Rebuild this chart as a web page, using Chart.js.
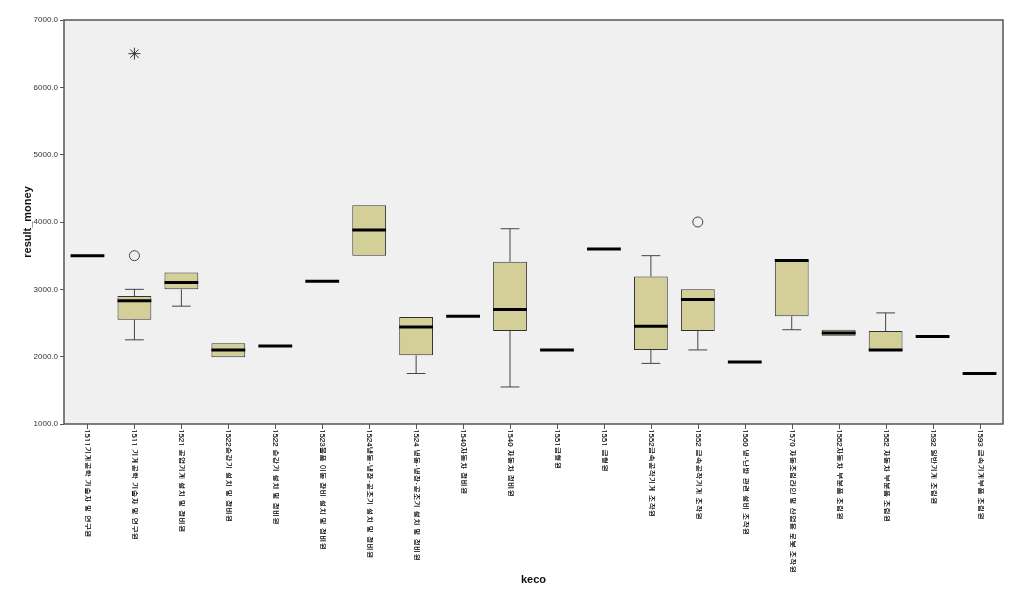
<!DOCTYPE html>
<html>
<head>
<meta charset="utf-8">
<script src="https://cdn.jsdelivr.net/npm/chart.js@4/dist/chart.umd.min.js"></script>
<style>
  html, body { margin: 0; padding: 0; background: #fff; }
  canvas { display: block; }
</style>
</head>
<body>
<canvas id="box-chart" width="1024" height="610"></canvas>
<script>
// keco categories (x axis)
const categories = [
  '1511기계공학 기술자 및 연구원',
  '1511 기계공학 기술자 및 연구원',
  '1521 공업기계 설치 및 정비원',
  '1522승강기 설치 및 정비원',
  '1522 승강기 설치 및 정비원',
  '1523물품 이동 장비 설치 및 정비원',
  '1524냉동·냉장·공조기 설치 및 정비원',
  '1524 냉동·냉장·공조기 설치 및 정비원',
  '1540자동차 정비원',
  '1540 자동차 정비원',
  '1551금형원',
  '1551 금형원',
  '1552금속공작기계 조작원',
  '1552 금속공작기계 조작원',
  '1560 냉·난방 관련 설비 조작원',
  '1570 자동조립라인 및 산업용 로봇 조작원',
  '1582자동차 부분품 조립원',
  '1582 자동차 부분품 조립원',
  '1592 일반기계 조립원',
  '1593 금속기계부품 조립원'
];

// result_money box statistics
const boxMin    = [3500, 2250, 2750, 1990, 2160, 3120, 3500, 1750, 2600, 1550, 2100, 3600, 1900, 2100, 1920, 2400, 2310, 2100, 2300, 1750];
const boxQ1     = [3500, 2550, 3000, 1990, 2160, 3120, 3500, 2020, 2600, 2380, 2100, 3600, 2100, 2380, 1920, 2600, 2310, 2100, 2300, 1750];
const boxMedian = [3500, 2830, 3100, 2100, 2160, 3120, 3880, 2440, 2600, 2700, 2100, 3600, 2450, 2850, 1920, 3430, 2350, 2100, 2300, 1750];
const boxQ3     = [3500, 2900, 3250, 2200, 2160, 3120, 4250, 2590, 2600, 3410, 2100, 3600, 3190, 3000, 1920, 3430, 2400, 2380, 2300, 1750];
const boxMax    = [3500, 3000, 3250, 2200, 2160, 3120, 4250, 2590, 2600, 3900, 2100, 3600, 3500, 3000, 1920, 3430, 2400, 2650, 2300, 1750];

// outliers (circle) and extremes (star): category index + value
const outlierCat   = [1, 13];
const outlierValue = [3500, 4000];
const extremeCat   = [1];
const extremeValue = [6500];

const yTicks = [1000, 2000, 3000, 4000, 5000, 6000, 7000];

const BOX_FRAC = 0.72;
const CAP_FRAC = 0.4;
const latin = "Arial, 'Liberation Sans', sans-serif";
const korean = "Gulim, 'Noto Sans CJK KR', Arial, sans-serif";

function catStep(xs) {
  return xs.getPixelForValue(1) - xs.getPixelForValue(0);
}

// plot frame + grey area
const plotArea = {
  id: 'plotArea',
  beforeDatasetsDraw(chart) {
    const { ctx, chartArea: a } = chart;
    ctx.save();
    ctx.fillStyle = '#f0f0f0';
    ctx.fillRect(a.left, a.top, a.width, a.height);
    ctx.restore();
  },
  afterDraw(chart) {
    const { ctx, chartArea: a } = chart;
    ctx.save();
    ctx.strokeStyle = '#555';
    ctx.lineWidth = 1.5;
    ctx.strokeRect(a.left, a.top, a.width, a.height);
    ctx.restore();
  }
};

// whiskers, caps and medians
const boxParts = {
  id: 'boxParts',
  afterDatasetsDraw(chart) {
    const { ctx } = chart;
    const xs = chart.scales.x, ys = chart.scales.y;
    const step = catStep(xs);
    ctx.save();
    categories.forEach((_, i) => {
      const x = xs.getPixelForValue(i);
      const half = step * BOX_FRAC / 2;
      const cap = step * CAP_FRAC / 2;
      ctx.strokeStyle = '#444';
      ctx.lineWidth = 1;
      const q1 = ys.getPixelForValue(boxQ1[i]);
      const q3 = ys.getPixelForValue(boxQ3[i]);
      const lo = ys.getPixelForValue(boxMin[i]);
      const hi = ys.getPixelForValue(boxMax[i]);
      if (boxMax[i] > boxQ3[i]) {
        ctx.beginPath();
        ctx.moveTo(x, q3); ctx.lineTo(x, hi);
        ctx.moveTo(x - cap, hi); ctx.lineTo(x + cap, hi);
        ctx.stroke();
      }
      if (boxMin[i] < boxQ1[i]) {
        ctx.beginPath();
        ctx.moveTo(x, q1); ctx.lineTo(x, lo);
        ctx.moveTo(x - cap, lo); ctx.lineTo(x + cap, lo);
        ctx.stroke();
      }
      const m = ys.getPixelForValue(boxMedian[i]);
      ctx.strokeStyle = '#000';
      ctx.lineWidth = 3;
      ctx.beginPath();
      ctx.moveTo(x - half, m); ctx.lineTo(x + half, m);
      ctx.stroke();
    });
    ctx.restore();
  }
};

// rotated category labels reading top to bottom
const catLabels = {
  id: 'catLabels',
  afterDraw(chart) {
    const { ctx, chartArea: a } = chart;
    const xs = chart.scales.x;
    ctx.save();
    ctx.strokeStyle = '#555';
    ctx.lineWidth = 1;
    ctx.fillStyle = '#000';
    ctx.font = "7.6px " + korean;
    ctx.textAlign = 'left';
    ctx.textBaseline = 'middle';
    categories.forEach((label, i) => {
      const x = Math.round(xs.getPixelForValue(i)) + 0.5;
      ctx.beginPath();
      ctx.moveTo(x, a.bottom); ctx.lineTo(x, a.bottom + 5);
      ctx.stroke();
      ctx.save();
      ctx.translate(x, a.bottom + 5);
      ctx.rotate(Math.PI / 2);
      ctx.fillText(label, 0, 0);
      ctx.fillText(label, 0.3, 0);
      ctx.restore();
    });
    ctx.restore();
  }
};

new Chart(document.getElementById('box-chart'), {
  type: 'bar',
  data: {
    labels: categories,
    datasets: [
      {
        label: 'box',
        data: boxQ1.map((q, i) => (boxQ3[i] > q ? [q, boxQ3[i]] : null)),
        backgroundColor: '#d4cf98',
        borderColor: '#333',
        borderWidth: 1,
        borderSkipped: false,
        categoryPercentage: 1,
        barPercentage: BOX_FRAC,
        order: 2
      },
      {
        type: 'line',
        label: 'outliers',
        data: outlierCat.map((c, k) => ({ x: categories[c], y: outlierValue[k] })),
        showLine: false,
        pointStyle: 'circle',
        pointRadius: 5,
        pointBorderWidth: 1,
        pointBackgroundColor: 'rgba(0,0,0,0)',
        pointBorderColor: '#444',
        order: 1
      },
      {
        type: 'line',
        label: 'extremes',
        data: extremeCat.map((c, k) => ({ x: categories[c], y: extremeValue[k] })),
        showLine: false,
        pointStyle: 'star',
        pointRadius: 6,
        pointBorderWidth: 1,
        pointBorderColor: '#333',
        order: 1
      }
    ]
  },
  options: {
    responsive: false,
    animation: false,
    layout: { padding: { top: 20, right: 21, bottom: 20, left: 0 } },
    plugins: {
      legend: { display: false },
      tooltip: { enabled: false }
    },
    scales: {
      x: {
        type: 'category',
        offset: true,
        grid: { display: false },
        border: { display: false },
        ticks: { display: false },
        title: {
          display: true,
          text: 'keco',
          color: '#111',
          font: { family: latin, size: 11, weight: 'bold' },
          padding: { top: 0, bottom: 3 }
        },
        afterFit(scale) { scale.height = 166; }
      },
      y: {
        min: 1000,
        max: 7000,
        grid: { drawOnChartArea: false, drawTicks: true, tickLength: 4, color: '#555' },
        border: { display: false },
        afterBuildTicks(scale) { scale.ticks = yTicks.map(v => ({ value: v })); },
        ticks: {
          padding: 2,
          color: '#333',
          font: { family: latin, size: 8 },
          callback: v => Number(v).toFixed(1)
        },
        title: {
          display: true,
          text: 'result_money',
          color: '#111',
          font: { family: latin, size: 11, weight: 'bold' },
          padding: { top: 21, bottom: 0 }
        },
        afterFit(scale) { scale.width = 64; }
      }
    }
  },
  plugins: [plotArea, boxParts, catLabels]
});
</script>
</body>
</html>
